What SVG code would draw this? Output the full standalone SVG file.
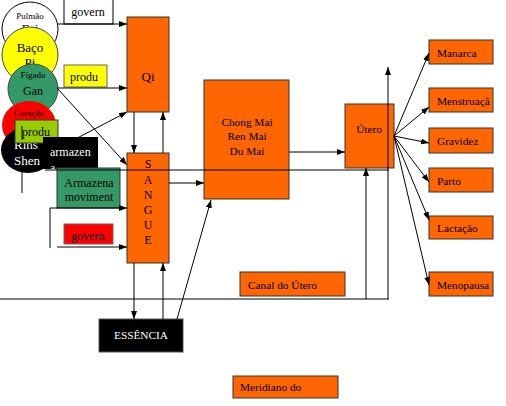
<svg xmlns="http://www.w3.org/2000/svg" width="506" height="406" viewBox="0 0 506 406">
<style>
text{font-family:"Liberation Serif","Times New Roman",serif;font-size:12px;fill:#000}
.box{stroke:#333;stroke-width:1}
.or{fill:#ff6600}
.ln{stroke:#000;stroke-width:1;fill:none}
.s9{font-size:9px}
.s11{font-size:11.3px}
.s13{font-size:13px}
.w{fill:#fff}
.c{text-anchor:middle}
</style>
<defs>
<marker id="ah" viewBox="0 0 8 6" refX="8" refY="3" markerWidth="8" markerHeight="6" markerUnits="userSpaceOnUse" orient="auto"><path d="M0,0 L8,3 L0,6 z" fill="#000"/></marker>
<clipPath id="cpArm"><rect x="43" y="137" width="55" height="32"/></clipPath>
<clipPath id="cpMen"><rect x="429" y="88" width="64" height="24"/></clipPath>
<clipPath id="cpMer"><rect x="233" y="376" width="105" height="22"/></clipPath>
</defs>
<rect width="506" height="406" fill="#fff"/>

<g id="connectors-under" class="ln">
<line x1="62" y1="146" x2="127" y2="112" marker-end="url(#ah)"/>
</g>

<g id="pulmao"><ellipse cx="30" cy="29" rx="28" ry="27" fill="#fff" stroke="#000"/><text class="s9 c" x="30" y="19">Pulmão</text><text class="s13 c" x="30" y="33">Fei</text></g>
<g id="baco"><ellipse cx="30" cy="55" rx="28" ry="28" fill="#ffff00" stroke="#444"/><text class="s13 c" x="30" y="52">Baço</text><text class="s13 c" x="30" y="67">Pi</text></g>
<g id="figado"><ellipse cx="33" cy="89" rx="25" ry="25" fill="#339966" stroke="#444"/><text class="s9 c" x="33" y="78">Fígado</text><text class="c" x="33" y="95">Gan</text></g>
<g id="coracao"><ellipse cx="29" cy="125" rx="27" ry="24" fill="#ff0000"/><text class="s9 c" x="29" y="116" fill="#600">Coração</text></g>
<g id="rins"><ellipse cx="28" cy="150" rx="27" ry="23" fill="#000"/><text class="s13 w" x="14" y="149">Rins</text><text class="s13 w" x="14" y="165">Shen</text></g>
<g id="produ2"><rect x="15" y="120" width="43" height="23" fill="#99cc00" class="box"/><text x="22" y="136">produ</text></g>
<g id="armazen"><rect x="43" y="137" width="55" height="32" fill="#000"/><g clip-path="url(#cpArm)"><text class="w" x="50" y="156">armazen</text><text class="w" x="50" y="172">a</text></g></g>
<g id="govern1"><rect x="64" y="-1" width="49" height="25" fill="#fff" stroke="#000"/><text class="c" x="88" y="16">govern</text></g>
<g id="produ1"><rect x="64" y="65" width="43" height="22" fill="#ffff00" stroke="#666"/><text x="70" y="81">produ</text></g>
<g id="armazena-mov"><rect x="57" y="168" width="63" height="40" fill="#339966" class="box"/><text class="c" x="89" y="187">Armazena</text><text class="c" x="89" y="201">moviment</text></g>
<g id="govern2"><rect x="64" y="224" width="49" height="20" fill="#ff0000" stroke="#666"/><text class="c" x="88" y="240" fill="#400">govern</text></g>

<g id="qi"><rect x="127" y="17" width="42" height="95" class="or box"/><text class="s13 c" x="148" y="81">Qi</text></g>
<g id="sangue"><rect x="127" y="153" width="42" height="110" class="or box"/>
<text class="c" x="148" y="168">S</text><text class="c" x="148" y="184">A</text><text class="c" x="148" y="199">N</text><text class="c" x="148" y="214">G</text><text class="c" x="148" y="229">U</text><text class="c" x="148" y="244">E</text></g>
<g id="chongmai"><rect x="204" y="80" width="85" height="119" class="or box"/><text class="s11 c" x="247" y="126">Chong Mai</text><text class="s11 c" x="247" y="140">Ren Mai</text><text class="s11 c" x="247" y="155">Du Mai</text></g>
<g id="utero"><rect x="345" y="104" width="49" height="64" class="or box"/><text class="s11 c" x="369" y="133">Útero</text></g>
<g id="manarca"><rect x="429" y="40" width="64" height="24" class="or box"/><text class="s11" x="437" y="57">Manarca</text></g>
<g id="menstruacao"><rect x="429" y="88" width="64" height="24" class="or box"/><text class="s11" x="437" y="105" clip-path="url(#cpMen)">Menstruaçã</text></g>
<g id="gravidez"><rect x="429" y="128" width="64" height="25" class="or box"/><text class="s11" x="437" y="145">Gravidez</text></g>
<g id="parto"><rect x="429" y="168" width="64" height="24" class="or box"/><text class="s11" x="437" y="185">Parto</text></g>
<g id="lactacao"><rect x="429" y="216" width="64" height="23" class="or box"/><text class="s11" x="437" y="232">Lactação</text></g>
<g id="menopausa"><rect x="429" y="272" width="64" height="24" class="or box"/><text class="s11" x="437" y="289">Menopausa</text></g>
<g id="canal"><rect x="240" y="272" width="105" height="24" class="or box"/><text class="s11" x="248" y="289">Canal do Útero</text></g>
<g id="meridiano"><rect x="233" y="376" width="105" height="22" class="or box"/><text class="s11" x="240" y="391" clip-path="url(#cpMer)">Meridiano do</text></g>
<g id="essencia"><rect x="99" y="319" width="84" height="33" fill="#000" stroke="#555"/><text class="s11 w c" x="141" y="339">ESSÊNCIA</text></g>

<g id="connectors" class="ln">
<line x1="57" y1="24" x2="127" y2="24" marker-end="url(#ah)"/>
<line x1="57" y1="88" x2="127" y2="88" marker-end="url(#ah)"/>
<line x1="57" y1="88" x2="127" y2="165" marker-end="url(#ah)"/>
<line x1="134" y1="112" x2="134" y2="153" marker-end="url(#ah)"/>
<line x1="163" y1="153" x2="163" y2="112" marker-end="url(#ah)"/>
<polyline points="50,248 50,208 127,208" marker-end="url(#ah)"/>
<line x1="57" y1="247" x2="127" y2="247" marker-end="url(#ah)"/>
<line x1="22" y1="126" x2="22" y2="140"/>
<line x1="22" y1="172" x2="22" y2="193"/>
<line x1="169" y1="183" x2="204" y2="183" marker-end="url(#ah)"/>
<line x1="134" y1="263" x2="134" y2="319" marker-end="url(#ah)"/>
<line x1="163" y1="319" x2="163" y2="263" marker-end="url(#ah)"/>
<line x1="177" y1="319" x2="211" y2="200" marker-end="url(#ah)"/>
<line x1="289" y1="152" x2="345" y2="152" marker-end="url(#ah)"/>
<line x1="45" y1="170" x2="389" y2="170"/>
<line x1="0" y1="299" x2="389" y2="299"/>
<line x1="366" y1="299" x2="366" y2="168" marker-end="url(#ah)"/>
<line x1="388" y1="299" x2="388" y2="67" marker-end="url(#ah)"/>
<line x1="394" y1="136" x2="429" y2="53" marker-end="url(#ah)"/>
<line x1="394" y1="136" x2="429" y2="107" marker-end="url(#ah)"/>
<line x1="394" y1="136" x2="429" y2="143" marker-end="url(#ah)"/>
<line x1="394" y1="136" x2="429" y2="182" marker-end="url(#ah)"/>
<line x1="394" y1="136" x2="429" y2="220" marker-end="url(#ah)"/>
<line x1="394" y1="136" x2="429" y2="285" marker-end="url(#ah)"/>
</g>
</svg>
